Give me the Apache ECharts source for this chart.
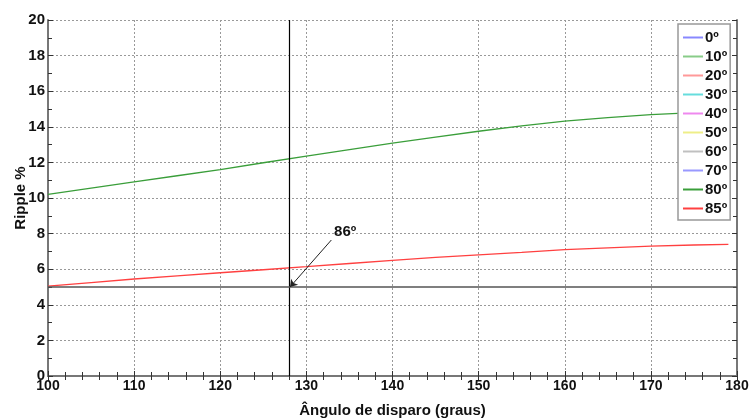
<!DOCTYPE html>
<html>
<head>
<meta charset="utf-8">
<script src="https://cdn.jsdelivr.net/npm/echarts@6/dist/echarts.min.js"></script>
<style>html,body{margin:0;padding:0;background:#fff}#c{width:750px;height:420px}</style>
</head>
<body>
<div id="c"></div>
<script>
const angles = [100,105,110,115,120,125,130,135,140,145,150,155,160,165,170,175,179];
const ripple80 = [10.2,10.55,10.9,11.25,11.6,11.98,12.35,12.72,13.08,13.42,13.75,14.05,14.32,14.52,14.68,14.8,14.87];
const ripple85 = [5.05,5.25,5.45,5.63,5.8,5.97,6.14,6.32,6.5,6.66,6.81,6.95,7.1,7.2,7.3,7.36,7.4];
const legendNames = ['0º','10º','20º','30º','40º','50º','60º','70º','80º','85º'];
const legendColors = ['#8888ff','#88cc88','#ff9999','#66dddd','#ee88ee','#eeee88','#c0c0c0','#9999ff','#3a9e3a','#ff4040'];
const refX = 128, refY = 5;
const arrowFrom = [132.9, 7.64], arrowTo = [128.1, 5.0];
const annotText = '86º', annotPos = [134.5, 8.1];
const xTicks = {min:100, max:180, interval:10};
const yTicks = {min:0, max:20, interval:2};

const font = 'Liberation Sans, Arial, sans-serif';
const series = legendNames.map((n,i)=>{
  let data = [];
  if (n==='80º') data = angles.map((a,j)=>[a, ripple80[j]]);
  if (n==='85º') data = angles.map((a,j)=>[a, ripple85[j]]);
  return {name:n, type:'line', symbol:'none', showSymbol:false, data, color:legendColors[i],
    itemStyle:{color:legendColors[i]},
    lineStyle:{width:1.3, color:legendColors[i]}, z:2, silent:true};
});
series.push({
  type:'line', data:[], symbol:'none', silent:true,
  markLine:{silent:true, symbol:'none', animation:false, label:{show:false},
    data:[
      {xAxis:refX, lineStyle:{color:'#000', width:1.2, type:'solid'}},
      {yAxis:refY, lineStyle:{color:'#555', width:1.5, type:'solid'}},
      [{coord:arrowFrom, symbol:'none'},{coord:arrowTo, symbol:'arrow', symbolSize:7}]
    ],
    lineStyle:{color:'#222', width:1, type:'solid'}
  },
  markPoint:{silent:true, symbol:'circle', symbolSize:0, animation:false,
    data:[{coord:annotPos, label:{show:true, formatter:annotText, color:'#111', fontWeight:'bold', fontSize:15, fontFamily:font}}]
  }
});
const iconPath = 'path://M0,6 L20,6 L20,8 L0,8 Z';
const axisLineStyle = {lineStyle:{color:'#777', width:2}};
const chart = echarts.init(document.getElementById('c'));
chart.setOption({
  animation:false,
  backgroundColor:'#fff',
  grid:{left:48, right:13, top:20, bottom:44, containLabel:false, outerBoundsMode:'none'},
  legend:{
    data:legendNames.map((n,i)=>({name:n, icon:iconPath,
      itemStyle:{color:legendColors[i], borderWidth:0, opacity:1},
      lineStyle:{width:0}})),
    orient:'vertical', left:678, top:24,
    backgroundColor:'#fff', borderColor:'#999', borderWidth:1.5, borderRadius:0,
    padding:[6,3,4,5], itemGap:4, itemWidth:20, itemHeight:15,
    textStyle:{fontFamily:font, fontWeight:'bold', fontSize:15, color:'#111', padding:[0,0,0,-3]},
    z:10
  },
  xAxis:[
    {type:'value', position:'bottom', min:xTicks.min, max:xTicks.max, interval:xTicks.interval,
     name:'Ângulo de disparo (graus)', nameLocation:'middle', nameGap:27, nameMoveOverlap:false,
     nameTextStyle:{fontFamily:font, fontWeight:'bold', fontSize:15, color:'#111'},
     axisLine:axisLineStyle, axisTick:{inside:true, length:5, lineStyle:{color:'#333'}},
     minorTick:{show:true, splitNumber:5, length:4, lineStyle:{color:'#333'}},
     axisLabel:{fontFamily:font, fontWeight:'bold', fontSize:14, color:'#111', margin:3},
     splitLine:{show:true, lineStyle:{color:'#999', type:[2,2], width:1}}},
    {type:'value', position:'top', min:xTicks.min, max:xTicks.max, interval:xTicks.interval,
     axisLine:axisLineStyle, axisTick:{inside:true, length:5, lineStyle:{color:'#333'}},
     minorTick:{show:true, splitNumber:5, length:4, lineStyle:{color:'#333'}},
     axisLabel:{show:false}, splitLine:{show:false}}
  ],
  yAxis:[
    {type:'value', position:'left', min:yTicks.min, max:yTicks.max, interval:yTicks.interval,
     name:'Ripple %', nameLocation:'middle', nameGap:20, nameMoveOverlap:false,
     nameTextStyle:{fontFamily:font, fontWeight:'bold', fontSize:15, color:'#111'},
     axisLine:axisLineStyle, axisTick:{inside:true, length:5, lineStyle:{color:'#333'}},
     minorTick:{show:true, splitNumber:2, length:4, lineStyle:{color:'#333'}},
     axisLabel:{fontFamily:font, fontWeight:'bold', fontSize:15, color:'#111', margin:3},
     splitLine:{show:true, lineStyle:{color:'#999', type:[2,2], width:1}}},
    {type:'value', position:'right', min:yTicks.min, max:yTicks.max, interval:yTicks.interval,
     axisLine:axisLineStyle, axisTick:{inside:true, length:5, lineStyle:{color:'#333'}},
     minorTick:{show:true, splitNumber:2, length:4, lineStyle:{color:'#333'}},
     axisLabel:{show:false}, splitLine:{show:false}}
  ],
  series
});
</script>
</body>
</html>
